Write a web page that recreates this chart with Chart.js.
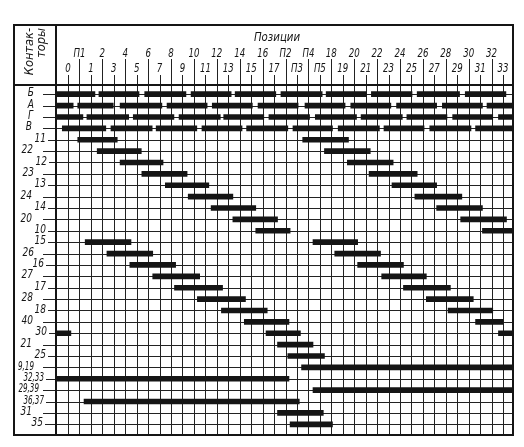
<!DOCTYPE html>
<html>
<head>
<meta charset="utf-8">
<script src="https://cdn.jsdelivr.net/npm/chart.js@4.4.1/dist/chart.umd.min.js"></script>
<style>
  html, body { margin: 0; padding: 0; background: #fff; }
  canvas { display: block; }
</style>
</head>
<body>
<canvas id="contactChart" width="524" height="447"></canvas>
<script>
// Controller positions, left to right (index on the x scale)
const positions = ['0', 'П1', '1', '2', '3', '4', '5', '6', '7', '8', '9', '10', '11', '12', '13', '14', '15', '16', '17',
    'П2', 'П3', 'П4', 'П5', '18', '19', '20', '21', '22', '23', '24', '25', '26', '27', '28', '29', '30', '31', '32', '33'];

// Contactors, top to bottom
const contactors = ['Б', 'А', 'Г', 'В', '11', '22', '12', '23', '13', '24', '14', '20', '10', '15', '26', '16', '27', '17',
    '28', '18', '40', '30', '21', '25', '9,19', '32,33', '29,39', '36,37', '31', '35'];

// Closed spans for each contactor, [from, to] in position index
const closedSpans = [
    [[-1.05, 2.35], [2.7, 6.2], [6.7, 10.3], [10.75, 14.25], [14.6, 18.15], [18.6, 22.2], [22.55, 26.05], [26.5, 30.05], [30.5, 34.2], [34.7, 38.25]],
    [[-1.05, 0.45], [0.85, 3.95], [4.55, 8.2], [8.65, 12.15], [12.6, 16.1], [16.6, 20.1], [20.7, 24.2], [24.7, 28.2], [28.7, 32.2], [32.7, 36.2], [36.6, 38.87]],
    [[-1.05, 1.3], [1.65, 5.3], [5.7, 9.25], [9.7, 13.3], [13.6, 17.1], [17.55, 21.1], [21.6, 25.2], [25.6, 29.2], [29.6, 33.1], [33.6, 37.1], [37.6, 38.87]],
    [[-0.5, 3.3], [3.75, 7.35], [7.7, 11.25], [11.7, 15.2], [15.6, 19.2], [19.65, 23.1], [23.6, 27.2], [27.6, 31.1], [31.6, 35.2], [35.6, 38.87]],
    [[0.85, 4.3], [20.5, 24.5]],
    [[2.55, 6.4], [22.4, 26.4]],
    [[4.55, 8.3], [24.4, 28.4]],
    [[6.45, 10.4], [26.3, 30.5]],
    [[8.5, 12.3], [28.3, 32.2]],
    [[10.5, 14.4], [30.3, 34.4]],
    [[12.5, 16.4], [32.2, 36.2]],
    [[14.4, 18.3], [34.3, 38.3]],
    [[16.4, 19.4], [36.2, 38.87]],
    [[1.5, 5.5], [21.4, 25.3]],
    [[3.4, 7.4], [23.3, 27.3]],
    [[5.4, 9.4], [25.3, 29.3]],
    [[7.4, 11.5], [27.4, 31.3]],
    [[9.3, 13.5], [29.3, 33.4]],
    [[11.3, 15.5], [31.3, 35.4]],
    [[13.4, 17.4], [33.2, 37.1]],
    [[15.4, 19.3], [35.6, 38.0]],
    [[-1.05, 0.25], [17.3, 20.3], [37.6, 38.87]],
    [[18.3, 21.4]],
    [[19.2, 22.4]],
    [[20.4, 38.87]],
    [[-1.05, 19.3]],
    [[21.4, 38.87]],
    [[1.4, 20.2]],
    [[18.3, 22.3]],
    [[19.4, 23.1]]
];

// where each row label ends (hand lettering is staggered)
const labelRight = [34, 34, 33, 32, 46, 33, 47, 34, 46, 32, 46, 32, 46, 46, 34, 44, 33, 46, 33, 46, 33, 47, 32, 46, 34, 44, 39, 44, 32, 43];

const FRAME = { left: 14, top: 25, right: 513, bottom: 435, split: 56, head: 85 };
const INK = '#151515';

const maxSpans = Math.max(...closedSpans.map(s => s.length));
const datasets = [];
for (let k = 0; k < maxSpans; k++) {
    datasets.push({
        data: closedSpans.map(s => s[k] || null),
        backgroundColor: INK,
        borderWidth: 0,
        barThickness: 5,
        grouped: false
    });
}

function line(ctx, x1, y1, x2, y2) {
    ctx.beginPath();
    ctx.moveTo(x1, y1);
    ctx.lineTo(x2, y2);
    ctx.stroke();
}

function label(ctx, str, x, y, size, align, sx) {
    ctx.save();
    ctx.translate(x, y);
    ctx.scale(sx, 1);
    ctx.font = 'italic ' + size + 'px "DejaVu Sans"';
    ctx.textAlign = align;
    ctx.textBaseline = 'middle';
    ctx.fillStyle = INK;
    ctx.fillText(str, 0, 0);
    ctx.restore();
}

// grid, frame and lettering of the drawing sheet
const sheet = {
    id: 'sheet',
    beforeDraw(chart) {
        const ctx = chart.ctx;
        ctx.save();
        ctx.fillStyle = '#fff';
        ctx.fillRect(0, 0, chart.width, chart.height);
        ctx.restore();
    },
    beforeDatasetsDraw(chart) {
        const ctx = chart.ctx;
        const xs = chart.scales.x, ys = chart.scales.y;
        ctx.save();
        ctx.strokeStyle = '#222';
        ctx.lineWidth = 1;
        positions.forEach((p, i) => {
            const x = Math.round(xs.getPixelForValue(i)) + 0.5;
            line(ctx, x, i % 2 ? 59 : 75, x, FRAME.bottom);
        });
        contactors.forEach((c, j) => {
            const y = Math.round(ys.getPixelForValue(j)) + 0.5;
            line(ctx, Math.max(labelRight[j] + 2, 43), y, FRAME.right, y);
        });
        ctx.restore();
    },
    afterDatasetsDraw(chart) {
        const ctx = chart.ctx;
        const xs = chart.scales.x, ys = chart.scales.y;
        ctx.save();
        ctx.strokeStyle = INK;
        ctx.lineWidth = 2;
        ctx.strokeRect(FRAME.left, FRAME.top, FRAME.right - FRAME.left, FRAME.bottom - FRAME.top);
        line(ctx, FRAME.split, FRAME.top, FRAME.split, FRAME.bottom);
        line(ctx, FRAME.left, FRAME.head, FRAME.right, FRAME.head);

        label(ctx, 'Позиции', 277, 38, 12, 'center', 0.85);
        positions.forEach((p, i) => {
            label(ctx, p, xs.getPixelForValue(i), i % 2 ? 53.5 : 69, 12, 'center', 0.72);
        });
        contactors.forEach((c, j) => {
            const narrow = c.indexOf(',') >= 0 ? 0.6 : 0.75;
            label(ctx, c, labelRight[j], ys.getPixelForValue(j) - 1, 12, 'right', narrow);
        });

        // rotated column heading
        ctx.save();
        ctx.translate(30, 28);
        ctx.rotate(-Math.PI / 2);
        label(ctx, 'Контак-', 0, 0, 12, 'right', 0.95);
        ctx.restore();
        ctx.save();
        ctx.translate(42, 28);
        ctx.rotate(-Math.PI / 2);
        label(ctx, 'торы', 0, 0, 12, 'right', 0.95);
        ctx.restore();
        ctx.restore();
    }
};

new Chart(document.getElementById('contactChart').getContext('2d'), {
    type: 'bar',
    data: {
        labels: contactors,
        datasets: datasets
    },
    options: {
        responsive: false,
        animation: false,
        indexAxis: 'y',
        layout: {
            padding: { left: 56, right: 11, top: 88.5, bottom: 17 }
        },
        plugins: {
            legend: { display: false },
            tooltip: { enabled: false }
        },
        scales: {
            x: { type: 'linear', min: -1.05, max: 38.87, display: false },
            y: { type: 'category', display: false }
        }
    },
    plugins: [sheet]
});
</script>
</body>
</html>
